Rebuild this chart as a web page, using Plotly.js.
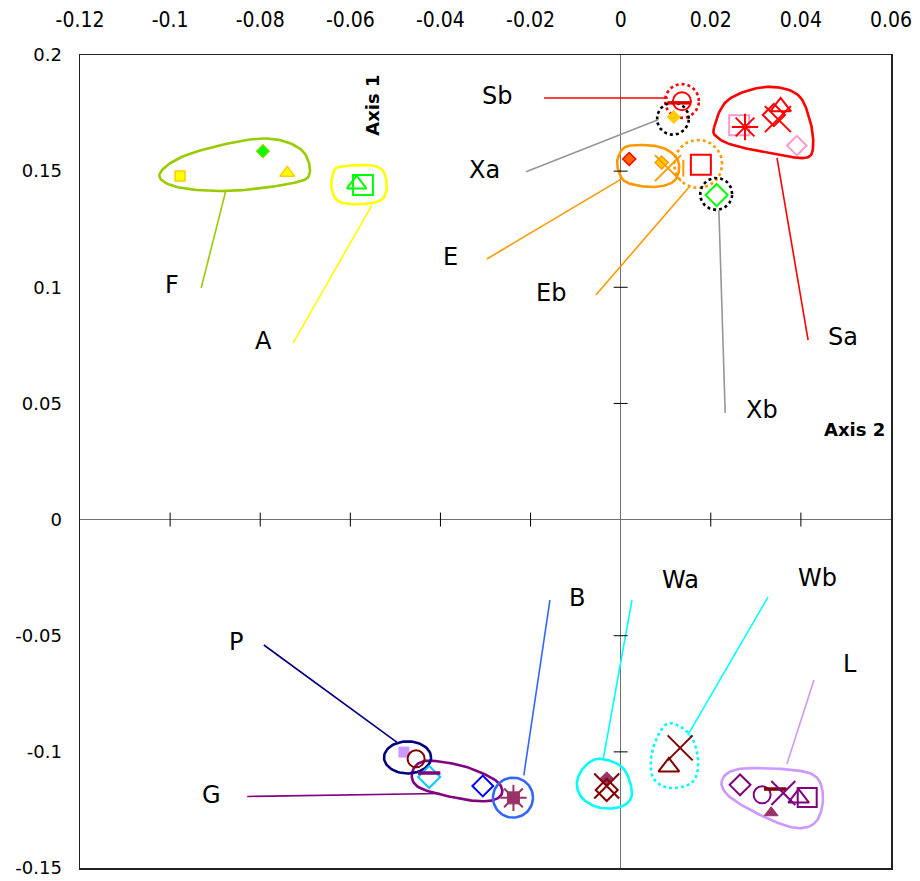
<!DOCTYPE html>
<html>
<head>
<meta charset="utf-8">
<script src="https://cdn.plot.ly/plotly-3.0.1.min.js"></script>
<style>html,body{margin:0;padding:0;background:#fff;}</style>
</head>
<body>
<div id="chart" style="width:920px;height:881px;"></div>
<script>
// ---------- axis ticks ----------
const xTickVals = [-0.12, -0.1, -0.08, -0.06, -0.04, -0.02, 0, 0.02, 0.04, 0.06];
const xTickText = ['-0.12', '-0.1', '-0.08', '-0.06', '-0.04', '-0.02', '0', '0.02', '0.04', '0.06'];
const yTickVals = [0.2, 0.15, 0.1, 0.05, 0, -0.05, -0.1, -0.15];
const yTickText = ['0.2', '0.15', '0.1', '0.05', '0', '-0.05', '-0.1', '-0.15'];
const xCrossTicks = [-0.1, -0.08, -0.06, -0.04, -0.02, 0.02, 0.04];
const yCrossTicks = [0.15, 0.1, 0.05, -0.05, -0.1];

// ---------- sample points ----------
const pointGroup = ['F','F','F','A','A','Sb','Sb','Xa','E','E','E','Eb','Eb','Xb',
  'Sa','Sa','Sa','Sa','Sa','Sa',
  'P','P','G','G','G','B','B','Wa','Wa','Wa','Wb','Wb',
  'L','L','L','L','L','L','L'];
const pointX = [-0.0978, -0.0794, -0.0740, -0.0586, -0.0572, 0.0136, 0.0129, 0.0118, 0.0019, 0.0091, 0.0105, 0.0139, 0.0178, 0.0213,
  0.0263, 0.0276, 0.0340, 0.0355, 0.0349, 0.0391,
  -0.0481, -0.0454, -0.0425, -0.0425, -0.0306, -0.0238, -0.0238, -0.0031, -0.0031, -0.0031, 0.0132, 0.0107,
  0.0265, 0.0314, 0.0343, 0.0361, 0.0334, 0.0395, 0.0414];
const pointY = [0.1479, 0.1586, 0.1492, 0.1444, 0.1440, 0.1801, 0.1794, 0.1733, 0.1552, 0.1537, 0.1513, 0.1513, 0.1527, 0.1397,
  0.1698, 0.1690, 0.1742, 0.1777, 0.1724, 0.1610,
  -0.1001, -0.1030, -0.1108, -0.1091, -0.1147, -0.1198, -0.1198, -0.1117, -0.1147, -0.1164, -0.0983, -0.1065,
  -0.1142, -0.1185, -0.1160, -0.1177, -0.1262, -0.1199, -0.1196];
const pointKind = ['ySquare','gDiamond','yTriangle','gTriOpen','gSqOpen','rCircleOpen','rBar','xaDiamond','eRedDiamond','eYelDiamond','oX','oBarV','rSqOpen','gDiaOpen',
  'pSqOpen','rAsterisk','rDiaOpen','rTriOpen','rX','pDiaOpen',
  'lavSquare','drCircleOpen','cyDiaOpen','puBar','blDiaOpen','mSquare','mAsterisk','mDiamond','drX','drDiaOpen','drX','drTriOpen',
  'puDiaOpen','puCircleOpen','drBar','puX','mTriangle','puTriOpen','puSqOpen'];

// ---------- group outlines (closed smooth curves through these points) ----------
const outlineNames = ['F','A','E','Sa','G','Wa','Wb','L'];
const outlineF_X = [-0.1023, -0.0956, -0.0800, -0.0712, -0.0690, -0.0727, -0.0867, -0.0985];
const outlineF_Y = [0.1489, 0.1575, 0.1640, 0.1597, 0.1492, 0.1449, 0.1415, 0.1432];
const outlineA_X = [-0.0623, -0.0545, -0.0521, -0.0526, -0.0568, -0.0623, -0.0641, -0.0639];
const outlineA_Y = [0.1519, 0.1522, 0.1471, 0.1385, 0.1359, 0.1367, 0.1419, 0.1483];
const outlineE_X = [-0.0006, 0.0016, 0.0087, 0.0127, 0.0121, 0.0076, 0.0016, -0.0004];
const outlineE_Y = [0.1557, 0.1608, 0.1604, 0.1548, 0.1462, 0.1432, 0.1449, 0.1496];
const outlineSa_X = [0.0207, 0.0238, 0.0320, 0.0391, 0.0420, 0.0427, 0.0409, 0.0342, 0.0254, 0.0216];
const outlineSa_Y = [0.1686, 0.1806, 0.1862, 0.1832, 0.1720, 0.1600, 0.1557, 0.1574, 0.1609, 0.1643];
const outlineG_X = [-0.0463, -0.0434, -0.0350, -0.0279, -0.0263, -0.0290, -0.0352, -0.0445];
const outlineG_Y = [-0.1091, -0.1039, -0.1061, -0.1121, -0.1177, -0.1211, -0.1203, -0.1156];
const outlineWa_X = [-0.0046, 0.0005, 0.0025, 0.0005, -0.0046, -0.0086, -0.0097, -0.0079];
const outlineWa_Y = [-0.1030, -0.1069, -0.1177, -0.1233, -0.1241, -0.1198, -0.1130, -0.1061];
const outlineWb_X = [0.0109, 0.0154, 0.0172, 0.0160, 0.0109, 0.0074, 0.0067, 0.0081];
const outlineWb_Y = [-0.0876, -0.0927, -0.1035, -0.1130, -0.1156, -0.1117, -0.1035, -0.0936];
const outlineL_X = [0.0225, 0.0265, 0.0383, 0.0436, 0.0449, 0.0433, 0.0391, 0.0324, 0.0242];
const outlineL_Y = [-0.1121, -0.1073, -0.1078, -0.1112, -0.1207, -0.1302, -0.1328, -0.1285, -0.1194];

// ---------- group circles / ellipses ----------
const circleNames = ['Sb','Xa','Eb','Xb','P','B'];
const circleCX = [0.0136, 0.0116, 0.0172, 0.0212, -0.0473, -0.0239];
const circleCY = [0.1802, 0.1726, 0.1531, 0.1402, -0.1024, -0.1197];
const circleRX = [0.00377, 0.00355, 0.00533, 0.00355, 0.00522, 0.00444];
const circleRY = [0.00732, 0.00689, 0.01033, 0.00689, 0.00689, 0.00861];

// ---------- labels and leader lines ----------
const labelNames = ['Sb','Xa','E','Eb','F','A','Sa','Xb','P','G','B','Wa','Wb','L'];
const labelX = [-0.0274, -0.0303, -0.0377, -0.0155, -0.0996, -0.0792, 0.0493, 0.0314, -0.0854, -0.0909, -0.0097, 0.0132, 0.0436, 0.0509];
const labelY = [0.1824, 0.1506, 0.1131, 0.0976, 0.1010, 0.0769, 0.0786, 0.0472, -0.0527, -0.1185, -0.0337, -0.0260, -0.0251, -0.0622];
const leaderFromX = [-0.0170, -0.0210, -0.0297, -0.0055, -0.0931, -0.0727, 0.0416, 0.0232, -0.0792, -0.0829, -0.0157, 0.0025, 0.0327, 0.0429];
const leaderFromY = [0.1815, 0.1497, 0.1122, 0.0967, 0.0997, 0.0760, 0.0773, 0.0459, -0.0540, -0.1192, -0.0347, -0.0347, -0.0334, -0.0691];
const leaderToX = [0.0105, 0.0083, 0.0005, 0.0154, -0.0876, -0.0552, 0.0347, 0.0218, -0.0497, -0.0401, -0.0215, -0.0039, 0.0149, 0.0369];
const leaderToY = [0.1815, 0.1721, 0.1470, 0.1436, 0.1419, 0.1354, 0.1557, 0.1333, -0.0958, -0.1179, -0.1101, -0.1035, -0.0928, -0.1052];
const axisNames = ['Axis 1', 'Axis 2'];
const axisNameX = [-0.0550, 0.0520];
const axisNameY = [0.1785, 0.0386];

// ---------- styles ----------
const groupColor = {
  F: '#99CC00', A: '#FFFF00', E: '#FF9900', Eb: '#FF9900', Sa: '#FF0000', Sb: '#FF0000',
  Xa: '#000000', Xb: '#000000', G: '#800080', P: '#000080', B: '#3366FF',
  Wa: '#00FFFF', Wb: '#00FFFF', L: '#CC99FF'
};
const leaderColor = {
  F: '#99CC00', A: '#FFFF00', E: '#FF9900', Eb: '#FF9900', Sa: '#FF0000', Sb: '#FF0000',
  Xa: '#969696', Xb: '#969696', G: '#800080', P: '#000080', B: '#3366FF',
  Wa: '#00FFFF', Wb: '#00FFFF', L: '#CC99FF'
};
const dottedGroups = ['Sb','Xa','Eb','Xb','Wb'];
const kindStyle = {
  ySquare:      {s:'square', c:'#FFFF00', lc:'#FFCC00', lw:1.5, z:10},
  gDiamond:     {s:'diamond', c:'#00FF00', lc:'#99CC00', lw:1.2, z:10},
  yTriangle:    {s:'triangle-up', c:'#FFFF00', lc:'#FFCC00', lw:1.5, z:13},
  gTriOpen:     {s:'triangle-up-open', c:'#00FF00', lw:2, z:17},
  gSqOpen:      {s:'square-open', c:'#00FF00', lw:2, z:20},
  rCircleOpen:  {s:'circle-open', c:'#FF0000', lw:2, z:18},
  rBar:         {s:'line-ew-open', c:'#E00000', lw:3.5, z:16},
  xaDiamond:    {s:'diamond', c:'#FFCC00', lc:'#FFCC00', lw:1, z:10},
  eRedDiamond:  {s:'diamond', c:'#FF6600', lc:'#FF0000', lw:1.5, z:10},
  eYelDiamond:  {s:'diamond', c:'#FFCC00', lc:'#FF9900', lw:1.5, z:10},
  oX:           {s:'x-thin-open', c:'#FF9900', lw:2, z:26},
  oBarV:        {s:'line-ns-open', c:'#FF9900', lw:2, z:12},
  rSqOpen:      {s:'square-open', c:'#FF0000', lw:2, z:20},
  gDiaOpen:     {s:'diamond-open', c:'#00FF00', lw:2, z:17},
  pSqOpen:      {s:'square-open', c:'#FF99CC', lw:2, z:20},
  rAsterisk:    {s:'asterisk-open', c:'#FF0000', lw:2, z:22},
  rDiaOpen:     {s:'diamond-open', c:'#FF0000', lw:2, z:17},
  rTriOpen:     {s:'triangle-up-open', c:'#FF0000', lw:2, z:18},
  rX:           {s:'x-thin-open', c:'#FF0000', lw:2, z:26},
  pDiaOpen:     {s:'diamond-open', c:'#FF99CC', lw:2, z:15},
  lavSquare:    {s:'square', c:'#CC99FF', lc:'#CC99FF', lw:1, z:10},
  drCircleOpen: {s:'circle-open', c:'#800000', lw:2, z:17},
  cyDiaOpen:    {s:'diamond-open', c:'#00CCFF', lw:2, z:17},
  puBar:        {s:'line-ew-open', c:'#800080', lw:3.5, z:16},
  blDiaOpen:    {s:'diamond-open', c:'#0000FF', lw:2, z:16},
  mSquare:      {s:'square', c:'#993366', lc:'#993366', lw:1, z:12},
  mAsterisk:    {s:'asterisk-open', c:'#993366', lw:2, z:22},
  mDiamond:     {s:'diamond', c:'#993366', lc:'#993366', lw:1, z:11},
  drX:          {s:'x-thin-open', c:'#800000', lw:2, z:25},
  drDiaOpen:    {s:'diamond-open', c:'#800000', lw:2, z:17},
  drTriOpen:    {s:'triangle-up-open', c:'#800000', lw:2, z:18},
  puDiaOpen:    {s:'diamond-open', c:'#800080', lw:2, z:16},
  puCircleOpen: {s:'circle-open', c:'#800080', lw:2, z:17},
  drBar:        {s:'line-ew-open', c:'#800000', lw:3.5, z:16},
  puX:          {s:'x-thin-open', c:'#800080', lw:2, z:24},
  mTriangle:    {s:'triangle-up', c:'#993366', lc:'#993366', lw:1, z:12},
  puTriOpen:    {s:'triangle-up-open', c:'#800080', lw:2, z:18},
  puSqOpen:     {s:'square-open', c:'#800080', lw:2, z:19}
};

// ---------- helpers ----------
function closedSpline(xs, ys, n) {
  const N = xs.length, ox = [], oy = [];
  for (let i = 0; i < N; i++) {
    const i0 = (i - 1 + N) % N, i1 = i, i2 = (i + 1) % N, i3 = (i + 2) % N;
    for (let k = 0; k < n; k++) {
      const t = k / n, t2 = t * t, t3 = t2 * t;
      const f = (p0, p1, p2, p3) => 0.5 * ((2 * p1) + (-p0 + p2) * t + (2 * p0 - 5 * p1 + 4 * p2 - p3) * t2 + (-p0 + 3 * p1 - 3 * p2 + p3) * t3);
      ox.push(f(xs[i0], xs[i1], xs[i2], xs[i3]));
      oy.push(f(ys[i0], ys[i1], ys[i2], ys[i3]));
    }
  }
  ox.push(ox[0]); oy.push(oy[0]);
  return [ox, oy];
}
function ellipse(cx, cy, rx, ry, n) {
  const ox = [], oy = [];
  for (let k = 0; k <= n; k++) {
    const a = 2 * Math.PI * k / n;
    ox.push(cx + rx * Math.cos(a)); oy.push(cy + ry * Math.sin(a));
  }
  return [ox, oy];
}

const traces = [];
const outlineData = {
  F: [outlineF_X, outlineF_Y], A: [outlineA_X, outlineA_Y], E: [outlineE_X, outlineE_Y],
  Sa: [outlineSa_X, outlineSa_Y], G: [outlineG_X, outlineG_Y], Wa: [outlineWa_X, outlineWa_Y],
  Wb: [outlineWb_X, outlineWb_Y], L: [outlineL_X, outlineL_Y]
};
outlineNames.forEach(name => {
  const [ox, oy] = closedSpline(outlineData[name][0], outlineData[name][1], 16);
  traces.push({x: ox, y: oy, mode: 'lines', hoverinfo: 'skip',
    line: {color: groupColor[name], width: 2.6, dash: dottedGroups.includes(name) ? 'dot' : 'solid'}});
});
circleNames.forEach((name, i) => {
  const [ox, oy] = ellipse(circleCX[i], circleCY[i], circleRX[i], circleRY[i], 72);
  traces.push({x: ox, y: oy, mode: 'lines', hoverinfo: 'skip',
    line: {color: groupColor[name], width: 2.6, dash: dottedGroups.includes(name) ? 'dot' : 'solid'}});
});
labelNames.forEach((name, i) => {
  traces.push({x: [leaderFromX[i], leaderToX[i]], y: [leaderFromY[i], leaderToY[i]], mode: 'lines',
    hoverinfo: 'skip', line: {color: leaderColor[name], width: 1.6}});
});
// crossing tick marks on the zero axes
traces.push({x: xCrossTicks, y: xCrossTicks.map(() => 0), mode: 'markers', hoverinfo: 'skip',
  marker: {symbol: 'line-ns-open', size: 10, color: '#000', opacity: 1, line: {width: 1}}});
traces.push({x: yCrossTicks.map(() => 0), y: yCrossTicks, mode: 'markers', hoverinfo: 'skip',
  marker: {symbol: 'line-ew-open', size: 10, color: '#000', opacity: 1, line: {width: 1}}});
// sample points
traces.push({
  x: pointX, y: pointY, mode: 'markers', text: pointGroup, hoverinfo: 'text+x+y',
  marker: {
    opacity: 1,
    symbol: pointKind.map(k => kindStyle[k].s),
    size: pointKind.map(k => kindStyle[k].z),
    color: pointKind.map(k => kindStyle[k].c),
    line: {color: pointKind.map(k => kindStyle[k].lc || kindStyle[k].c), width: pointKind.map(k => kindStyle[k].lw)}
  }
});

const annotations = labelNames.map((name, i) => ({
  x: labelX[i], y: labelY[i], xref: 'x', yref: 'y', text: name, showarrow: false,
  font: {family: 'DejaVu Sans, sans-serif', size: 24, color: '#000'}
}));
annotations.push({x: axisNameX[0], y: axisNameY[0], xref: 'x', yref: 'y', text: '<b>' + axisNames[0] + '</b>',
  showarrow: false, textangle: -90, font: {family: 'DejaVu Sans, sans-serif', size: 18, color: '#000'}});
annotations.push({x: axisNameX[1], y: axisNameY[1], xref: 'x', yref: 'y', text: '<b>' + axisNames[1] + '</b>',
  showarrow: false, font: {family: 'DejaVu Sans, sans-serif', size: 18, color: '#000'}});

const layout = {
  width: 920, height: 881,
  margin: {l: 80, r: 29, t: 55, b: 13, pad: 0},
  paper_bgcolor: '#fff', plot_bgcolor: '#fff',
  showlegend: false,
  xaxis: {
    range: [-0.12, 0.06], side: 'top', tickmode: 'array', tickvals: xTickVals, ticktext: xTickText,
    showgrid: false, zeroline: true, zerolinecolor: '#707070', zerolinewidth: 1.6,
    showline: true, mirror: true, linecolor: '#222', linewidth: 1.5, ticks: '',
    ticklabelstandoff: 18,
    tickfont: {family: 'Liberation Sans Narrow, DejaVu Sans Condensed, sans-serif', size: 21, color: '#000'},
    fixedrange: true
  },
  yaxis: {
    range: [-0.15, 0.2], tickmode: 'array', tickvals: yTickVals, ticktext: yTickText,
    showgrid: false, zeroline: true, zerolinecolor: '#707070', zerolinewidth: 1.6,
    showline: true, mirror: true, linecolor: '#222', linewidth: 1.5, ticks: '',
    ticklabelstandoff: 13,
    tickfont: {family: 'DejaVu Sans, sans-serif', size: 18, color: '#000'},
    fixedrange: true
  },
  annotations: annotations
};

Plotly.newPlot('chart', traces, layout, {displayModeBar: false, staticPlot: true});
</script>
</body>
</html>
